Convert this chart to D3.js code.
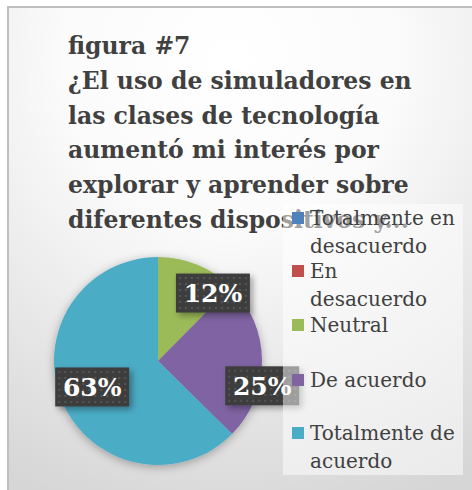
<!DOCTYPE html>
<html>
<head>
<meta charset="utf-8">
<script src="https://cdn.jsdelivr.net/npm/d3@7"></script>
<style>
  body { margin: 0; background: #fff; }
  svg { display: block; }
</style>
</head>
<body>
<div id="chart"></div>
<script>
// chart values
var titleLines = ["figura #7", "¿El uso de simuladores en", "las clases de tecnología",
  "aumentó mi interés por", "explorar y aprender sobre", "diferentes dispositivos y..."];
var categories = ["Totalmente en desacuerdo", "En desacuerdo", "Neutral", "De acuerdo", "Totalmente de acuerdo"];
var legendLines = [["Totalmente en", "desacuerdo"], ["En", "desacuerdo"], ["Neutral"], ["De acuerdo"], ["Totalmente de", "acuerdo"]];
var percents = [0, 0, 12.4, 25, 62.6];
var colors = ["#4F81BD", "#C0504D", "#9BBB59", "#8064A2", "#4BACC6"];

var W = 472, H = 490;
var svg = d3.select("#chart").append("svg")
  .attr("width", W)
  .attr("height", H);

var defs = svg.append("defs");

var bg = defs.append("radialGradient")
  .attr("id", "bg")
  .attr("gradientUnits", "userSpaceOnUse")
  .attr("cx", 230).attr("cy", 60).attr("r", 470);
bg.append("stop").attr("offset", "0").attr("stop-color", "#ffffff");
bg.append("stop").attr("offset", "0.35").attr("stop-color", "#fbfbfb");
bg.append("stop").attr("offset", "1").attr("stop-color", "#d6d6d6");

var dots = defs.append("pattern")
  .attr("id", "dots")
  .attr("patternUnits", "userSpaceOnUse")
  .attr("width", 6).attr("height", 6);
dots.append("rect").attr("width", 6).attr("height", 6).attr("fill", "#3d3d3d");
dots.append("rect").attr("x", 2).attr("y", 2).attr("width", 2).attr("height", 2).attr("fill", "#555555");

var shadow = defs.append("filter").attr("id", "shadow")
  .attr("x", "-30%").attr("y", "-30%").attr("width", "160%").attr("height", "160%");
shadow.append("feDropShadow")
  .attr("dx", 3).attr("dy", 3).attr("stdDeviation", 3)
  .attr("flood-color", "#000").attr("flood-opacity", 0.35);

var pieShadow = defs.append("filter").attr("id", "pieShadow")
  .attr("x", "-30%").attr("y", "-30%").attr("width", "160%").attr("height", "160%");
pieShadow.append("feDropShadow")
  .attr("dx", 0).attr("dy", 2).attr("stdDeviation", 5)
  .attr("flood-color", "#000").attr("flood-opacity", 0.3);

// frame
svg.append("rect")
  .attr("x", 8).attr("y", 7)
  .attr("width", W + 20).attr("height", H + 20)
  .attr("fill", "url(#bg)")
  .attr("stroke", "#bfbfbf")
  .attr("stroke-width", 2);

// title
svg.append("g").selectAll("text")
  .data(titleLines)
  .enter().append("text")
  .attr("x", 68)
  .attr("y", function(d, i) { return 54 + i * 34.8; })
  .attr("font-family", "DejaVu Serif")
  .attr("font-weight", "bold")
  .attr("font-size", "23.5px")
  .attr("fill", "#404040")
  .text(function(d) { return d; });

// pie
var cx = 158, cy = 361, r = 104;
var pie = d3.pie().sort(null).value(function(d) { return d; });
var arcs = pie(percents);
var arc = d3.arc().innerRadius(0).outerRadius(r);

var g = svg.append("g").attr("transform", "translate(" + cx + "," + cy + ")");
g.append("g").attr("filter", "url(#pieShadow)")
  .selectAll("path")
  .data(arcs)
  .enter().append("path")
  .attr("d", arc)
  .attr("fill", function(d, i) { return colors[i]; });

// data labels (Excel best fit placement, polar radius factor + angle shift)
var labelPlace = [null, null, {k: 0.84, da: 0.29}, {k: 1.03, da: 0.24}, {k: 0.68, da: 0.02}];
var lab = g.selectAll(".lab")
  .data(arcs.filter(function(d) { return d.value > 0; }))
  .enter().append("g")
  .attr("class", "lab")
  .attr("transform", function(d) {
    var p = labelPlace[d.index];
    var a = (d.startAngle + d.endAngle) / 2 + p.da;
    return "translate(" + (Math.sin(a) * r * p.k) + "," + (-Math.cos(a) * r * p.k) + ")";
  });
lab.append("rect")
  .attr("x", -37).attr("y", -19.5)
  .attr("width", 74).attr("height", 39)
  .attr("fill", "url(#dots)")
  .attr("filter", "url(#shadow)");
lab.append("text")
  .attr("text-anchor", "middle")
  .attr("y", 9)
  .attr("font-family", "DejaVu Serif")
  .attr("font-weight", "bold")
  .attr("font-size", "25px")
  .attr("fill", "#ffffff")
  .text(function(d) { return Math.round(d.value) + "%"; });

// legend
svg.append("rect")
  .attr("x", 283).attr("y", 204)
  .attr("width", 180).attr("height", 271)
  .attr("fill", "#ffffff")
  .attr("fill-opacity", 0.5);

var legY = [225, 278, 332, 387, 440];
var leg = svg.append("g").selectAll("g")
  .data(categories)
  .enter().append("g")
  .attr("transform", function(d, i) { return "translate(0," + legY[i] + ")"; });
leg.append("rect")
  .attr("x", 292).attr("y", -13)
  .attr("width", 12).attr("height", 12)
  .attr("fill", function(d, i) { return colors[i]; });
leg.append("text")
  .attr("x", 310)
  .attr("font-family", "DejaVu Serif")
  .attr("font-size", "20px")
  .attr("fill", "#404040")
  .each(function(d, i) {
    var t = d3.select(this);
    legendLines[i].forEach(function(line, j) {
      t.append("tspan").attr("x", 310).attr("y", j * 27.5).text(line);
    });
  });
</script>
</body>
</html>
